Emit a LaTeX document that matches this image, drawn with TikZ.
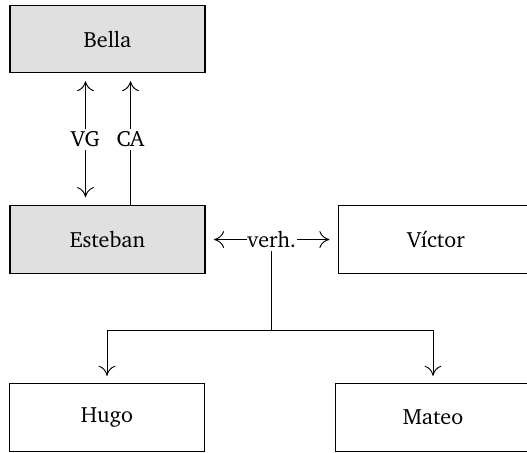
\documentclass[tikz,border=0pt]{standalone}
\usepackage[T1]{fontenc}
\usepackage{charter}
\usetikzlibrary{arrows.meta}
\begin{document}
\begin{tikzpicture}[x=0.476pt,y=-0.476pt,
  person/.style={draw, line width=0.5pt, minimum width=92.8pt, minimum height=32.1pt,
    inner sep=0pt, outer sep=0pt, font=\fontsize{10.5}{12}\selectfont},
  anchorperson/.style={person, fill=black!12},
  cmtip/.tip={Computer Modern Rightarrow[length=4.8pt,width=8pt,line width=0.45pt]},
  link/.style={line width=0.45pt},
  tag/.style={fill=white, inner sep=1.2pt, font=\fontsize{10.5}{12}\selectfont}]
  \useasboundingbox (0,0) rectangle (527,452);

  % people
  \node[anchorperson] (bella)   at (107.5,39)  {Bella};
  \node[anchorperson] (esteban) at (107.5,239.5) {Esteban};
  \node[person]       (victor)  at (436,239.5) {Víctor};
  \node[person]       (hugo)    at (107,417.5) {Hugo};
  \node[person]       (mateo)   at (433,417.5) {Mateo};

  % links between Esteban and Bella
  \coordinate (vgtop) at (85.5,72.7);
  \coordinate (vgbot) at (85.5,206);
  \coordinate (catop) at (130.5,72.7);
  \coordinate (cabot) at (130.5,206);
  \draw[link, cmtip-cmtip, shorten <=4pt, shorten >=4.2pt] (vgtop) -- node[tag] (vg) {VG} (vgbot);
  \draw[link, -cmtip, shorten >=4pt] (cabot) -- node[tag] (ca) {CA} (catop);

  % Esteban -- Víctor
  \draw[link, cmtip-cmtip, shorten <=4.3pt, shorten >=4.3pt]
    (esteban.east) -- node[tag, inner xsep=0.3pt] (verh) {verh.} (victor.west);

  % children
  \coordinate (fork) at (271.5,330.5);
  \draw[link] (verh.south -| fork) -- (fork);
  \draw[link, -cmtip, shorten >=3.8pt] (fork) -| (hugo.north);
  \draw[link, -cmtip, shorten >=3.8pt] (fork) -| (mateo.north);
\end{tikzpicture}
\end{document}
